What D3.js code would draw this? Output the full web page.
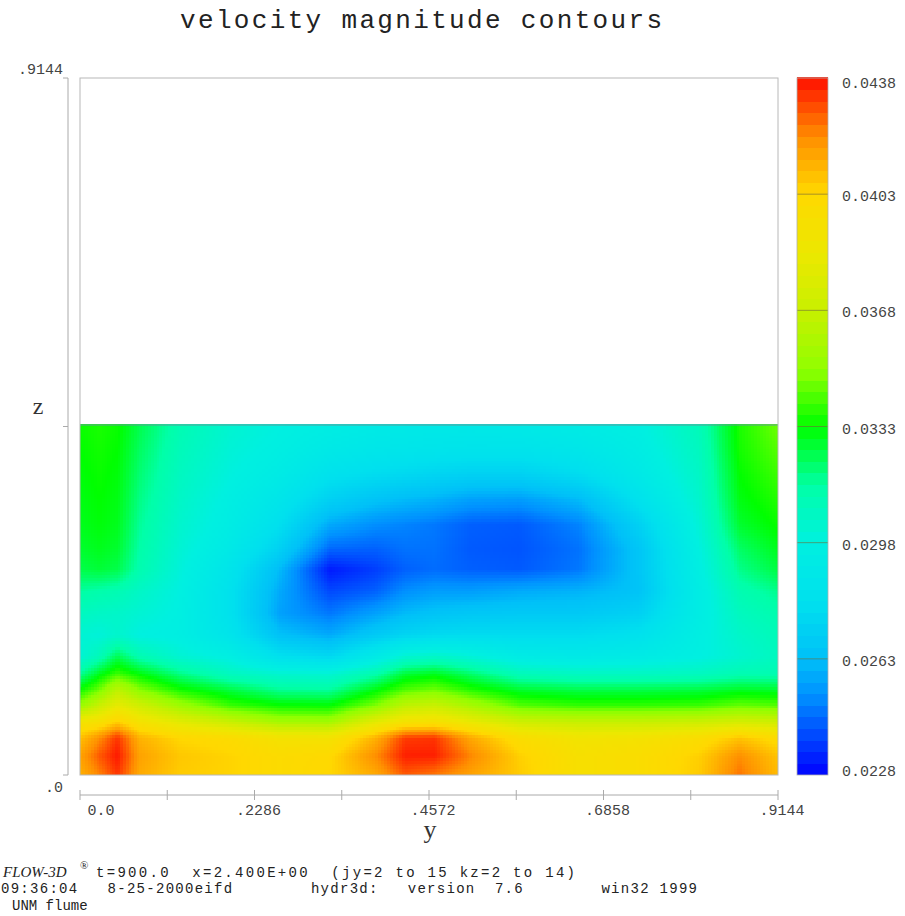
<!DOCTYPE html>
<html><head><meta charset="utf-8">
<script src="https://cdn.jsdelivr.net/npm/d3@7"></script>
<style>body{margin:0;background:#fff} svg{display:block} text{white-space:pre}</style>
</head><body><svg id="chart" width="905" height="916"></svg>
<script>
// grid node positions (y across flume, z vertical), metres
const yNodes = [0, 0.0262, 0.0498, 0.0786, 0.1310, 0.1965, 0.2620, 0.3275, 0.3865, 0.4258, 0.4651, 0.5109, 0.5764, 0.6550, 0.7336, 0.8122, 0.8646, 0.9144];
const zNodes = [0.4592, 0.4264, 0.3936, 0.3608, 0.3280, 0.2952, 0.2689, 0.2401, 0.2112, 0.1824, 0.1561, 0.1325, 0.1115, 0.0905, 0.0695, 0.0485, 0.0249, 0];
// velocity magnitude at nodes, rows top (surface) to bottom (bed)
const speed = [
 [0.0334,0.0336,0.0334,0.0325,0.0312,0.0303,0.0298,0.0295,0.0292,0.0291,0.0290,0.0290,0.0291,0.0293,0.0297,0.0310,0.0336,0.0346],
 [0.0333,0.0335,0.0333,0.0323,0.0310,0.0301,0.0296,0.0290,0.0287,0.0286,0.0285,0.0284,0.0284,0.0287,0.0294,0.0308,0.0335,0.0343],
 [0.0332,0.0334,0.0332,0.0321,0.0308,0.0299,0.0292,0.0282,0.0278,0.0276,0.0274,0.0272,0.0272,0.0278,0.0290,0.0306,0.0333,0.0340],
 [0.0331,0.0333,0.0331,0.0319,0.0306,0.0296,0.0286,0.0272,0.0265,0.0262,0.0260,0.0256,0.0255,0.0262,0.0282,0.0304,0.0331,0.0337],
 [0.0330,0.0332,0.0330,0.0317,0.0304,0.0294,0.0280,0.0258,0.0252,0.0250,0.0248,0.0244,0.0243,0.0250,0.0272,0.0301,0.0328,0.0334],
 [0.0328,0.0330,0.0328,0.0315,0.0302,0.0290,0.0272,0.0245,0.0244,0.0247,0.0247,0.0243,0.0242,0.0247,0.0266,0.0298,0.0322,0.0330],
 [0.0325,0.0327,0.0325,0.0313,0.0300,0.0285,0.0262,0.0232,0.0238,0.0244,0.0246,0.0244,0.0243,0.0248,0.0266,0.0296,0.0318,0.0326],
 [0.0316,0.0314,0.0312,0.0306,0.0298,0.0282,0.0258,0.0240,0.0244,0.0252,0.0255,0.0255,0.0258,0.0260,0.0265,0.0294,0.0312,0.0318],
 [0.0308,0.0306,0.0305,0.0302,0.0297,0.0282,0.0256,0.0248,0.0256,0.0262,0.0265,0.0267,0.0268,0.0268,0.0272,0.0294,0.0308,0.0313],
 [0.0302,0.0300,0.0304,0.0298,0.0296,0.0285,0.0264,0.0258,0.0268,0.0274,0.0277,0.0278,0.0278,0.0278,0.0282,0.0296,0.0305,0.0310],
 [0.0301,0.0310,0.0324,0.0312,0.0302,0.0296,0.0280,0.0275,0.0290,0.0302,0.0305,0.0300,0.0292,0.0290,0.0292,0.0297,0.0303,0.0308],
 [0.0316,0.0330,0.0340,0.0332,0.0319,0.0308,0.0303,0.0302,0.0313,0.0327,0.0330,0.0322,0.0310,0.0307,0.0307,0.0308,0.0312,0.0312],
 [0.0333,0.0346,0.0364,0.0349,0.0335,0.0326,0.0317,0.0316,0.0331,0.0342,0.0346,0.0337,0.0328,0.0325,0.0325,0.0326,0.0329,0.0328],
 [0.0352,0.0369,0.0383,0.0372,0.0355,0.0340,0.0334,0.0333,0.0348,0.0365,0.0369,0.0358,0.0343,0.0339,0.0339,0.0340,0.0345,0.0343],
 [0.0390,0.0394,0.0405,0.0392,0.0380,0.0368,0.0356,0.0355,0.0380,0.0392,0.0394,0.0384,0.0370,0.0367,0.0367,0.0369,0.0373,0.0370],
 [0.0408,0.0420,0.0433,0.0412,0.0403,0.0400,0.0392,0.0392,0.0412,0.0432,0.0433,0.0415,0.0398,0.0390,0.0392,0.0398,0.0408,0.0400],
 [0.0415,0.0428,0.0437,0.0416,0.0407,0.0404,0.0400,0.0402,0.0420,0.0436,0.0436,0.0422,0.0405,0.0395,0.0398,0.0405,0.0420,0.0408],
 [0.0412,0.0422,0.0433,0.0414,0.0406,0.0404,0.0400,0.0403,0.0414,0.0428,0.0424,0.0416,0.0406,0.0395,0.0398,0.0406,0.0424,0.0410]
];
const yTicks = [0, 0.1143, 0.2286, 0.3429, 0.4572, 0.5715, 0.6858, 0.8001, 0.9144];
const yTickLabels = ["0.0", "", ".2286", "", ".4572", "", ".6858", "", ".9144"];
const zTicks = [0, 0.4572, 0.9144];
const zTickLabels = [".0", "", ".9144"];
const legendValues = [0.0438, 0.0403, 0.0368, 0.0333, 0.0298, 0.0263, 0.0228];
const colorStops = [0.0228, 0.0240, 0.0252, 0.0263, 0.0280, 0.0298, 0.0315, 0.0333, 0.0350, 0.0368, 0.0385, 0.0403, 0.0420, 0.0438];
const colorRange = ["#0000ff", "#0048ff", "#0090ff", "#00c0f8", "#00e0ee", "#00f0e0", "#00ffa8", "#00ff00", "#90ff00", "#c8f000", "#ece800", "#ffd800", "#ff9000", "#ff1000"];

const svg = d3.select("#chart");
const x = d3.scaleLinear().domain([0, 0.9144]).range([80, 778]);
const z = d3.scaleLinear().domain([0, 0.9144]).range([775, 78]);
const color = d3.scaleLinear().domain(colorStops).range(colorRange).clamp(true);
const font = "'Liberation Mono', 'DejaVu Sans Mono', monospace";
const serif = "'Liberation Serif', 'DejaVu Serif', serif";

// title
svg.append("text").attr("x", 421).attr("y", 28).attr("text-anchor", "middle")
  .attr("font-family", font).attr("font-size", 26).attr("fill", "#222")
  .attr("textLength", 482).attr("lengthAdjust", "spacing")
  .text("velocity magnitude contours");

// field: bilinear shading between grid nodes
const field = svg.append("g").attr("shape-rendering", "crispEdges");
const cells = [];
for (let j = 0; j < zNodes.length - 1; j++) {
  for (let i = 0; i < yNodes.length - 1; i++) {
    const x0 = x(yNodes[i]), x1 = x(yNodes[i + 1]);
    const y0 = z(zNodes[j]), y1 = z(zNodes[j + 1]);
    const nx = Math.max(1, Math.ceil((x1 - x0) / 3));
    const ny = Math.max(1, Math.ceil((y1 - y0) / 3));
    const a = speed[j][i], b = speed[j][i + 1], c = speed[j + 1][i], d = speed[j + 1][i + 1];
    for (let p = 0; p < nx; p++) {
      for (let q = 0; q < ny; q++) {
        const u = (p + 0.5) / nx, v = (q + 0.5) / ny;
        const val = (1 - u) * (1 - v) * a + u * (1 - v) * b + (1 - u) * v * c + u * v * d;
        const xa = Math.floor(x0 + (x1 - x0) * p / nx), xb = Math.ceil(x0 + (x1 - x0) * (p + 1) / nx);
        const ya = Math.floor(y0 + (y1 - y0) * q / ny), yb = Math.ceil(y0 + (y1 - y0) * (q + 1) / ny);
        cells.push({x: xa, y: ya, w: xb - xa, h: yb - ya, v: val});
      }
    }
  }
}
field.selectAll("rect").data(cells).join("rect")
  .attr("x", d => d.x).attr("y", d => d.y).attr("width", d => d.w).attr("height", d => d.h)
  .attr("fill", d => color(d.v));

// free surface line
svg.append("line").attr("x1", x(0)).attr("x2", x(0.9144)).attr("y1", z(zNodes[0])).attr("y2", z(zNodes[0]))
  .attr("stroke", "#5f9a98").attr("stroke-width", 1.2);

// plot frame
svg.append("rect").attr("x", x(0)).attr("y", z(0.9144)).attr("width", x(0.9144) - x(0)).attr("height", z(0) - z(0.9144))
  .attr("fill", "none").attr("stroke", "#b8b8b8").attr("stroke-width", 1);

// left (z) axis
const zAx = svg.append("g").attr("stroke", "#aaa");
zAx.append("line").attr("x1", 68).attr("x2", 68).attr("y1", z(0.9144)).attr("y2", z(0));
zAx.selectAll("line.t").data(zTicks).join("line").attr("class", "t")
  .attr("x1", 63).attr("x2", 68).attr("y1", d => z(d)).attr("y2", d => z(d));
svg.append("text").attr("x", 63).attr("y", z(0.9144) - 4).attr("text-anchor", "end")
  .attr("font-family", font).attr("font-size", 15).attr("fill", "#444").text(zTickLabels[2]);
svg.append("text").attr("x", 63).attr("y", z(0) + 17).attr("text-anchor", "end")
  .attr("font-family", font).attr("font-size", 15).attr("fill", "#444").text(zTickLabels[0]);
svg.append("text").attr("x", 38).attr("y", 414).attr("text-anchor", "middle")
  .attr("font-family", serif).attr("font-size", 24).attr("fill", "#333").text("z");

// bottom (y) axis
const yAx = svg.append("g").attr("stroke", "#aaa");
yAx.append("line").attr("x1", x(0)).attr("x2", x(0.9144)).attr("y1", 795).attr("y2", 795);
yAx.selectAll("line.t").data(yTicks).join("line").attr("class", "t")
  .attr("x1", d => x(d)).attr("x2", d => x(d)).attr("y1", 790).attr("y2", 800);
svg.selectAll("text.yl").data(yTicks).join("text").attr("class", "yl")
  .attr("x", (d, i) => i === 0 ? x(d) + 21 : x(d) + 4).attr("y", 815).attr("text-anchor", "middle")
  .attr("font-family", font).attr("font-size", 15).attr("fill", "#444")
  .text((d, i) => yTickLabels[i]);
svg.append("text").attr("x", 430).attr("y", 838).attr("text-anchor", "middle")
  .attr("font-family", serif).attr("font-size", 26).attr("fill", "#333").text("y");

// colour bar
const cb = d3.scaleLinear().domain([0.0228, 0.0438]).range([775, 78]);
const nb = 60;
const bands = d3.range(nb).map(k => 0.0228 + (0.0438 - 0.0228) * k / nb);
const bandH = (0.0438 - 0.0228) / nb;
svg.append("g").attr("shape-rendering", "crispEdges").selectAll("rect").data(bands).join("rect")
  .attr("x", 797).attr("width", 31)
  .attr("y", d => Math.floor(cb(d + bandH))).attr("height", d => Math.ceil(cb(d)) - Math.floor(cb(d + bandH)))
  .attr("fill", d => color(d + bandH / 2));
svg.append("g").selectAll("line").data(legendValues.slice(1, -1)).join("line")
  .attr("x1", 797).attr("x2", 828).attr("y1", d => cb(d)).attr("y2", d => cb(d))
  .attr("stroke", "#6a6a3a").attr("stroke-opacity", 0.6).attr("stroke-width", 1);
svg.append("rect").attr("x", 797).attr("y", 78).attr("width", 31).attr("height", 697)
  .attr("fill", "none").attr("stroke", "#b0b0b0").attr("stroke-width", 0.8);
svg.selectAll("text.cl").data(legendValues).join("text").attr("class", "cl")
  .attr("x", 842).attr("y", (d, i) => i === 0 ? cb(d) + 10 : (i === legendValues.length - 1 ? cb(d) + 1 : cb(d) + 7))
  .attr("font-family", font).attr("font-size", 15).attr("fill", "#444")
  .text(d => d.toFixed(4));

// footer
svg.append("text").attr("x", 3).attr("y", 877).attr("font-family", serif).attr("font-style", "italic")
  .attr("font-size", 15).attr("fill", "#222").text("FLOW-3D");
svg.append("text").attr("x", 80).attr("y", 869).attr("font-family", serif)
  .attr("font-size", 11).attr("fill", "#222").text("®");
svg.append("text").attr("x", 96).attr("y", 877).attr("font-family", font).attr("font-size", 14).attr("fill", "#222")
  .attr("textLength", 479).attr("lengthAdjust", "spacing")
  .text("t=900.0  x=2.400E+00  (jy=2 to 15 kz=2 to 14)");
svg.append("text").attr("x", 1).attr("y", 893).attr("font-family", font).attr("font-size", 14).attr("fill", "#222")
  .attr("textLength", 696).attr("lengthAdjust", "spacing")
  .text("09:36:04   8-25-2000eifd        hydr3d:   version  7.6        win32 1999");
svg.append("text").attr("x", 12).attr("y", 910).attr("font-family", font).attr("font-size", 14).attr("fill", "#222")
  .text("UNM flume");
</script>
</body></html>
